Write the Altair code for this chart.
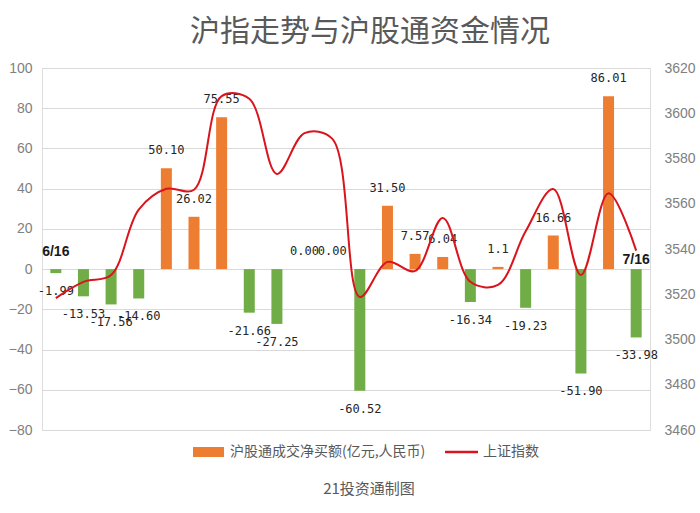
import altair as alt
import pandas as pd

# ---- data ----
dates = ["6/16", "6/17", "6/18", "6/22", "6/23", "6/24", "6/25", "6/28", "6/29", "6/30", "7/1",
         "7/2", "7/5", "7/6", "7/7", "7/8", "7/9", "7/12", "7/13", "7/14", "7/15", "7/16"]
net_buy = [-1.99, -13.53, -17.56, -14.60, 50.10, 26.02, 75.55, -21.66, -27.25, 0.00, 0.00,
           -60.52, 31.50, 7.57, 6.04, -16.34, 1.1, -19.23, 16.66, -51.90, 86.01, -33.98]
net_buy_labels = ["-1.99", "-13.53", "-17.56", "-14.60", "50.10", "26.02", "75.55", "-21.66", "-27.25",
                  "0.00", "0.00", "-60.52", "31.50", "7.57", "6.04", "-16.34", "1.1", "-19.23",
                  "16.66", "-51.90", "86.01", "-33.98"]
sh_index = [3518.3, 3525.5, 3528.5, 3557.4, 3566.6, 3566.2, 3607.6, 3606.4, 3573.2, 3591.2, 3588.8,
            3518.8, 3534.3, 3530.3, 3553.7, 3525.5, 3524.1, 3547.8, 3566.5, 3528.5, 3564.6, 3539.3]
left_ticks = [-80, -60, -40, -20, 0, 20, 40, 60, 80, 100]
right_ticks = [3460, 3480, 3500, 3520, 3540, 3560, 3580, 3600, 3620]

title_text = "沪指走势与沪股通资金情况"
legend_bar = "沪股通成交净买额(亿元,人民币)"
legend_line = "上证指数"
footer_text = "21投资通制图"

df = pd.DataFrame({"date": dates, "value": net_buy, "label": net_buy_labels, "idx": sh_index})

ORANGE = "#ED7D31"
GREEN = "#70AD47"
RED = "#D9141C"
GRAY = "#808080"
CJK = "Noto Sans CJK SC"

W, H = 608, 362

xenc = alt.X("date:N", sort=dates, axis=None,
             scale=alt.Scale(paddingInner=0, paddingOuter=0))
yleft = alt.Scale(domain=[-80, 100], nice=False, zero=False)

base = alt.Chart(df)

bars = base.mark_bar(size=11).encode(
    x=xenc,
    y=alt.Y("value:Q", scale=yleft, title=None,
            axis=alt.Axis(values=left_ticks, grid=True, gridColor="#D9D9D9", domain=False,
                          ticks=False, labelColor=GRAY, labelFontSize=14, format="d",
                          labelFont="Liberation Sans", labelPadding=10)),
    color=alt.condition(alt.datum.value >= 0, alt.value(ORANGE), alt.value(GREEN)),
)

lab_pos = base.transform_filter(alt.datum.value >= 0).mark_text(
    dy=-18, font="DejaVu Sans Mono", fontSize=12, color="#262626"
).encode(x=xenc, y=alt.Y("value:Q", scale=yleft), text="label:N")

lab_neg = base.transform_filter(alt.datum.value < 0).mark_text(
    dy=18, font="DejaVu Sans Mono", fontSize=12, color="#262626"
).encode(x=xenc, y=alt.Y("value:Q", scale=yleft), text="label:N")

first_day = base.transform_filter(alt.datum.date == dates[0]).transform_calculate(zero="0").mark_text(
    dy=-17, fontSize=14, fontWeight="bold", color="#1a1a1a", font="Liberation Sans"
).encode(x=xenc, y=alt.Y("zero:Q", scale=yleft), text="date:N")

last_day = base.transform_filter(alt.datum.date == dates[-1]).transform_calculate(zero="0").mark_text(
    dy=-9, fontSize=14, fontWeight="bold", color="#1a1a1a", font="Liberation Sans"
).encode(x=xenc, y=alt.Y("zero:Q", scale=yleft), text="date:N")

left_layer = alt.layer(bars, lab_pos, lab_neg, first_day, last_day)

line = base.mark_line(color=RED, strokeWidth=2, interpolate="catmull-rom").encode(
    x=xenc,
    y=alt.Y("idx:Q", scale=alt.Scale(domain=[3460, 3620], nice=False, zero=False), title=None,
            axis=alt.Axis(orient="right", values=right_ticks, grid=False, domain=False,
                          ticks=False, labelColor=GRAY, labelFontSize=14, format="d",
                          labelFont="Liberation Sans", labelPadding=14)),
)

one = pd.DataFrame({"k": [0]})
leg_rect = alt.Chart(one).mark_rect(color=ORANGE).encode(
    x=alt.value(151), x2=alt.value(182), y=alt.value(379), y2=alt.value(389))
leg_text1 = alt.Chart(one).mark_text(align="left", baseline="middle", font=CJK, fontSize=14,
                                     color="#595959", text=legend_bar).encode(
    x=alt.value(188), y=alt.value(384))
leg_rule = alt.Chart(one).mark_rule(color=RED, strokeWidth=2.5).encode(
    x=alt.value(403), x2=alt.value(436), y=alt.value(384))
leg_text2 = alt.Chart(one).mark_text(align="left", baseline="middle", font=CJK, fontSize=14,
                                     color="#595959", text=legend_line).encode(
    x=alt.value(441), y=alt.value(384))
footer = alt.Chart(one).mark_text(align="center", baseline="middle", font=CJK, fontSize=15,
                                  color="#595959", text=footer_text).encode(
    x=alt.value(327), y=alt.value(421))

deco = alt.layer(leg_rect, leg_text1, leg_rule, leg_text2, footer)

chart = alt.layer(left_layer, line, deco).resolve_scale(y="independent").properties(
    width=W, height=H,
    autosize=alt.AutoSizeParams(type="none"),
    padding={"left": 42, "top": 68, "right": 50, "bottom": 83},
    title=alt.TitleParams(title_text, font=CJK, fontSize=30, fontWeight="normal",
                          color="#595959", anchor="middle", dx=24, offset=14),
).configure_view(stroke=None).configure(background="white")

chart.save("out.html", embed_options={"renderer": "svg", "actions": False})
